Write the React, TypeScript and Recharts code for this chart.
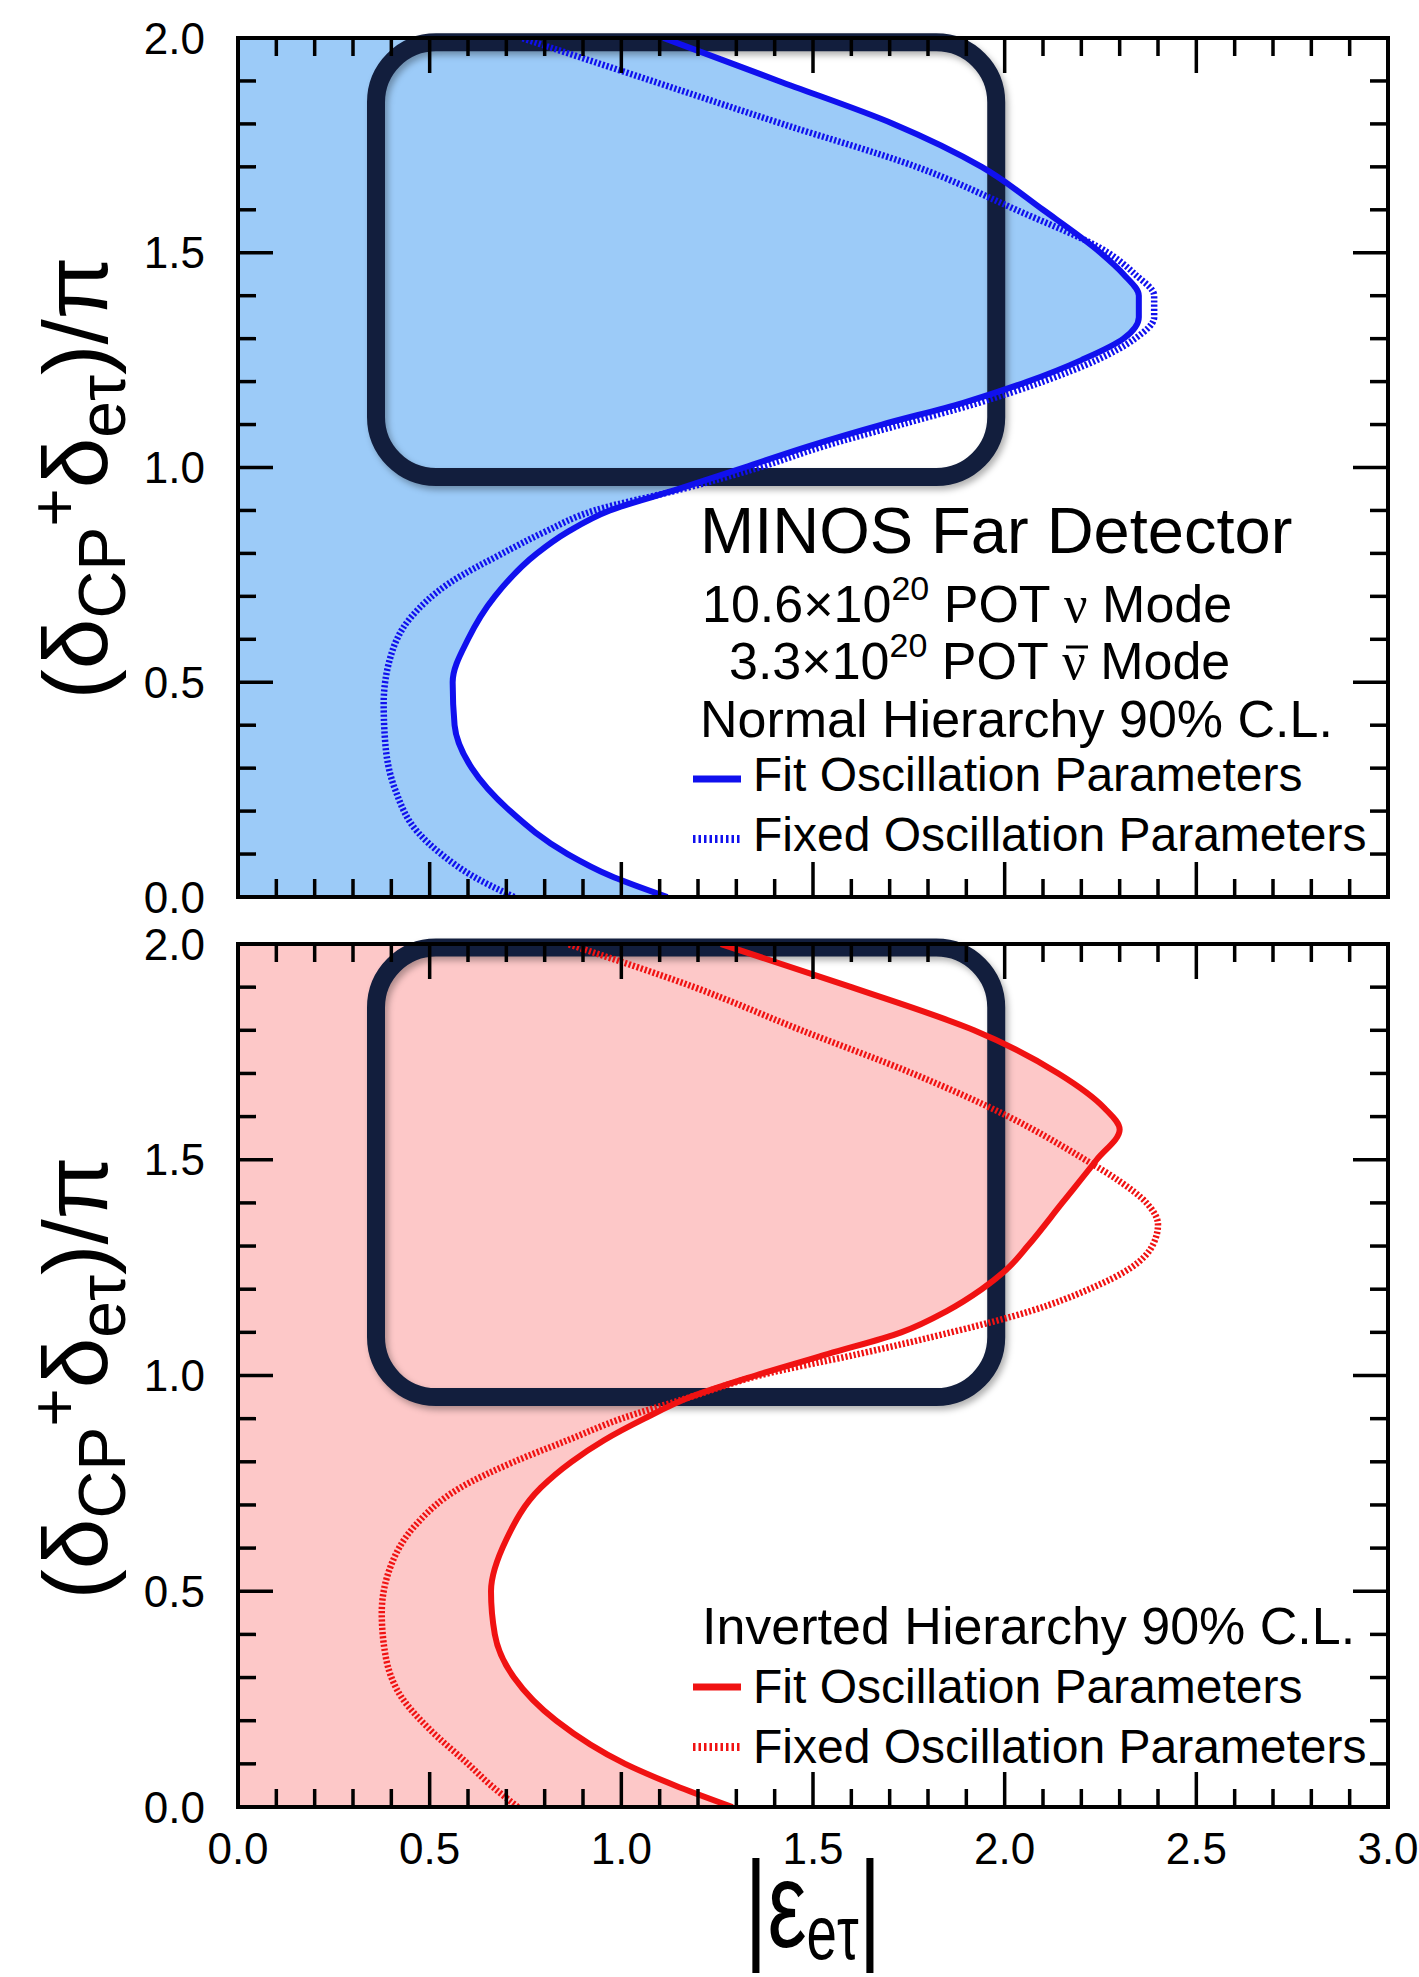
import React from 'react';
import {
  ComposedChart,
  Area,
  Line,
  XAxis,
  YAxis,
  ReferenceArea,
  Rectangle,
  Customized,
} from 'recharts';

const FONT = '"Liberation Sans", Arial, Helvetica, sans-serif';
const SERIF = '"Liberation Serif", "Times New Roman", serif';

// 90% C.L. contours: phase (δCP+δeτ)/π against |εeτ|, listed by increasing phase.

// Normal hierarchy, fitted oscillation parameters
const nhFitPhase = [0.0, 0.05, 0.1, 0.2, 0.3, 0.4, 0.5, 0.6, 0.7, 0.8, 0.85, 0.9, 0.95, 1.0, 1.05, 1.1, 1.15, 1.2, 1.25, 1.3, 1.35, 1.4, 1.45, 1.5, 1.6, 1.7, 1.8, 1.9, 2.0];
const nhFitEps = [1.12, 0.97, 0.86, 0.71, 0.61, 0.565, 0.56, 0.6, 0.67, 0.78, 0.86, 0.97, 1.15, 1.32, 1.49, 1.68, 1.89, 2.06, 2.2, 2.31, 2.35, 2.35, 2.31, 2.25, 2.1, 1.94, 1.71, 1.41, 1.11];

// Normal hierarchy, fixed oscillation parameters
const nhFixedPhase = [0.0, 0.05, 0.1, 0.15, 0.25, 0.35, 0.45, 0.55, 0.65, 0.73, 0.8, 0.85, 0.9, 0.95, 1.0, 1.05, 1.1, 1.15, 1.2, 1.25, 1.3, 1.35, 1.4, 1.45, 1.5, 1.6, 1.7, 1.8, 1.9, 2.0];
const nhFixedEps = [0.72, 0.61, 0.53, 0.47, 0.41, 0.385, 0.38, 0.395, 0.45, 0.55, 0.69, 0.8, 0.93, 1.16, 1.36, 1.53, 1.73, 1.93, 2.1, 2.24, 2.34, 2.39, 2.39, 2.34, 2.27, 2.03, 1.77, 1.42, 1.08, 0.74];

// Inverted hierarchy, fitted oscillation parameters
const ihFitPhase = [0.0, 0.05, 0.1, 0.2, 0.3, 0.4, 0.5, 0.62, 0.74, 0.8, 0.85, 0.9, 0.95, 1.0, 1.05, 1.1, 1.15, 1.2, 1.25, 1.3, 1.4, 1.5, 1.57, 1.62, 1.7, 1.8, 1.9, 2.0];
const ihFitEps = [1.29, 1.14, 1.01, 0.83, 0.72, 0.67, 0.66, 0.7, 0.79, 0.87, 0.955, 1.06, 1.18, 1.35, 1.54, 1.73, 1.85, 1.94, 2.01, 2.06, 2.15, 2.24, 2.3, 2.26, 2.14, 1.92, 1.6, 1.26];

// Inverted hierarchy, fixed oscillation parameters
const ihFixedPhase = [0.0, 0.05, 0.1, 0.18, 0.25, 0.35, 0.45, 0.55, 0.65, 0.74, 0.8, 0.85, 0.9, 0.95, 1.0, 1.05, 1.1, 1.15, 1.2, 1.25, 1.3, 1.35, 1.4, 1.45, 1.5, 1.6, 1.7, 1.8, 1.9, 2.0];
const ihFixedEps = [0.73, 0.66, 0.6, 0.5, 0.43, 0.385, 0.375, 0.395, 0.46, 0.58, 0.72, 0.86, 1.0, 1.18, 1.36, 1.62, 1.86, 2.07, 2.22, 2.33, 2.385, 2.4, 2.37, 2.3, 2.21, 2.01, 1.76, 1.47, 1.19, 0.86];

// Axis ticks
const X_TICKS = [0, 0.5, 1, 1.5, 2, 2.5, 3];
const X_MINOR_TICKS = [0.1, 0.2, 0.3, 0.4, 0.6, 0.7, 0.8, 0.9, 1.1, 1.2, 1.3, 1.4, 1.6, 1.7, 1.8, 1.9, 2.1, 2.2, 2.3, 2.4, 2.6, 2.7, 2.8, 2.9];
const Y_TICKS = [0, 0.5, 1, 1.5, 2];
const Y_MINOR_TICKS = [0.1, 0.2, 0.3, 0.4, 0.6, 0.7, 0.8, 0.9, 1.1, 1.2, 1.3, 1.4, 1.6, 1.7, 1.8, 1.9];

// Highlighted regions (|εeτ| range, phase range)
const NH_BOX_EPS = [0.36, 1.978];
const NH_BOX_PHASE = [0.978, 1.99];
const IH_BOX_EPS = [0.36, 1.978];
const IH_BOX_PHASE = [0.95, 1.992];

const BLUE = '#1010EE';
const BLUE_FILL = '#9ccbf8';
const RED = '#F01212';
const RED_FILL = '#fdc8c8';
const NAVY = '#121e3d';

type Row = { phase: number; eps: number };
const toRows = (phase: number[], eps: number[]): Row[] =>
  phase.map((p, i) => ({ phase: p, eps: eps[i] }));

const fmt = (v: number) => v.toFixed(1);

const tickLineStyle = { stroke: '#000', strokeWidth: 3.5 };
const frameStyle = { stroke: '#000', strokeWidth: 4, strokeLinecap: 'square' as const };
const noLabel = () => <g />;

// Inward-pointing major/minor ticks on all four sides, plus the frame.
function frameAxes() {
  const common = {
    type: 'number' as const,
    allowDataOverflow: true,
    interval: 0 as const,
    tick: noLabel,
    tickLine: tickLineStyle,
    tickMargin: 0,
    mirror: true,
  };
  const yCommon = { ...common, dataKey: 'phase', domain: [0, 2], reversed: true };
  return [
    <XAxis key="bmaj" xAxisId="bMajor" orientation="bottom" height={1} domain={[0, 3]} ticks={X_TICKS} tickSize={35} {...common} axisLine={frameStyle} />,
    <XAxis key="bmin" xAxisId="bMinor" orientation="bottom" height={1} domain={[0, 3]} ticks={X_MINOR_TICKS} tickSize={17} {...common} axisLine={false} />,
    <XAxis key="tmaj" xAxisId="tMajor" orientation="top" height={1} domain={[0, 3]} ticks={X_TICKS} tickSize={35} {...common} axisLine={frameStyle} />,
    <XAxis key="tmin" xAxisId="tMinor" orientation="top" height={1} domain={[0, 3]} ticks={X_MINOR_TICKS} tickSize={17} {...common} axisLine={false} />,
    <YAxis key="lmaj" yAxisId="lMajor" orientation="left" width={1} ticks={Y_TICKS} tickSize={35} {...yCommon} axisLine={frameStyle} />,
    <YAxis key="lmin" yAxisId="lMinor" orientation="left" width={1} ticks={Y_MINOR_TICKS} tickSize={17} {...yCommon} axisLine={false} />,
    <YAxis key="rmaj" yAxisId="rMajor" orientation="right" width={1} ticks={Y_TICKS} tickSize={35} {...yCommon} axisLine={frameStyle} />,
    <YAxis key="rmin" yAxisId="rMinor" orientation="right" width={1} ticks={Y_MINOR_TICKS} tickSize={17} {...yCommon} axisLine={false} />,
  ];
}

function YTitle({ cx, cy }: { cx: number; cy: number }) {
  return (
    <text
      transform={`translate(${cx},${cy}) rotate(-90)`}
      textAnchor="middle"
      fontFamily={FONT}
      fontSize={91}
      fill="#000"
    >
      (δ
      <tspan fontSize={66} dy={18}>CP</tspan>
      <tspan fontSize={66} dy={-48}>+</tspan>
      <tspan dy={30}>δ</tspan>
      <tspan fontSize={66} dy={18}>eτ</tspan>
      <tspan dy={-18}>)/π</tspan>
    </text>
  );
}

function Swatch({ x, y, color, dotted }: { x: number; y: number; color: string; dotted?: boolean }) {
  return dotted ? (
    <line x1={x} x2={x + 48} y1={y} y2={y} stroke={color} strokeWidth={8} strokeDasharray="2.5 3" />
  ) : (
    <line x1={x} x2={x + 48} y1={y} y2={y} stroke={color} strokeWidth={7} />
  );
}

function NormalNotes() {
  return (
    <g fontFamily={FONT} fill="#000">
      <YTitle cx={107} cy={478} />
      <text x={700} y={553} fontSize={65}>MINOS Far Detector</text>
      <text x={702} y={622} fontSize={52}>
        10.6×10<tspan fontSize={34} dy={-22}>20</tspan>
        <tspan dy={22}> POT </tspan>
        <tspan fontFamily={SERIF}>ν</tspan> Mode
      </text>
      <text x={729} y={679} fontSize={52}>
        3.3×10<tspan fontSize={34} dy={-22}>20</tspan>
        <tspan dy={22}> POT </tspan>
        <tspan fontFamily={SERIF}>ν</tspan> Mode
      </text>
      {/* bar over the antineutrino symbol */}
      <line x1={1066} x2={1088} y1={647} y2={647} stroke="#000" strokeWidth={3} />
      <text x={700} y={737} fontSize={52}>Normal Hierarchy 90% C.L.</text>
      <Swatch x={693} y={779} color={BLUE} />
      <text x={753} y={791} fontSize={48}>Fit Oscillation Parameters</text>
      <Swatch x={693} y={839} color={BLUE} dotted />
      <text x={753} y={851} fontSize={48}>Fixed Oscillation Parameters</text>
    </g>
  );
}

function InvertedNotes() {
  return (
    <g fontFamily={FONT} fill="#000">
      <YTitle cx={107} cy={468} />
      <text x={702} y={734} fontSize={52}>Inverted Hierarchy 90% C.L.</text>
      <Swatch x={693} y={777} color={RED} />
      <text x={753} y={793} fontSize={48}>Fit Oscillation Parameters</text>
      <Swatch x={693} y={837} color={RED} dotted />
      <text x={753} y={853} fontSize={48}>Fixed Oscillation Parameters</text>
      <text transform="translate(813,1037) scale(0.72,1)" textAnchor="middle" fontSize={122}>
        |ε<tspan fontSize={76} dy={12}>eτ</tspan>
        <tspan dy={-12}>|</tspan>
      </text>
    </g>
  );
}

type PanelProps = {
  top: number;
  height: number;
  marginTop: number;
  marginBottom: number;
  showX: boolean;
  fit: Row[];
  fixed: Row[];
  lineColor: string;
  fillColor: string;
  boxEps: number[];
  boxPhase: number[];
  notes: React.ReactElement;
};

function Panel(p: PanelProps) {
  return (
    <div style={{ position: 'absolute', left: 0, top: p.top }}>
      <ComposedChart
        layout="vertical"
        width={1419}
        height={p.height}
        data={p.fit}
        margin={{ top: p.marginTop, right: 31, bottom: p.marginBottom, left: 138 }}
      >
        <XAxis
          xAxisId="main"
          type="number"
          domain={[0, 3]}
          allowDataOverflow
          ticks={X_TICKS}
          interval={0}
          hide={!p.showX}
          height={p.showX ? 170 : 0}
          tickLine={false}
          axisLine={false}
          tickSize={0}
          tickMargin={26}
          tickFormatter={fmt}
          tick={{ fontSize: 44, fill: '#000', fontFamily: FONT }}
        />
        <YAxis
          yAxisId="main"
          type="number"
          dataKey="phase"
          domain={[0, 2]}
          reversed
          allowDataOverflow
          ticks={Y_TICKS}
          interval={0}
          width={100}
          tickLine={false}
          axisLine={false}
          tickSize={0}
          tickMargin={33}
          tickFormatter={fmt}
          tick={{ fontSize: 44, fill: '#000', fontFamily: FONT }}
        />
        <Area
          xAxisId="main"
          yAxisId="main"
          data={p.fit}
          dataKey="eps"
          type="monotone"
          fill={p.fillColor}
          fillOpacity={1}
          stroke="none"
          isAnimationActive={false}
        />
        <Line
          xAxisId="main"
          yAxisId="main"
          data={p.fixed}
          dataKey="eps"
          type="monotone"
          stroke={p.lineColor}
          strokeWidth={6.5}
          strokeDasharray="2.2 2"
          dot={false}
          activeDot={false}
          isAnimationActive={false}
        />
        <Line
          xAxisId="main"
          yAxisId="main"
          data={p.fit}
          dataKey="eps"
          type="monotone"
          stroke={p.lineColor}
          strokeWidth={6}
          dot={false}
          activeDot={false}
          isAnimationActive={false}
        />
        {frameAxes()}
        <ReferenceArea
          xAxisId="main"
          yAxisId="main"
          x1={p.boxEps[0]}
          x2={p.boxEps[1]}
          y1={p.boxPhase[0]}
          y2={p.boxPhase[1]}
          ifOverflow="visible"
          shape={(s: any) => (
            <Rectangle
              {...s}
              radius={60}
              fill="none"
              fillOpacity={0}
              stroke={NAVY}
              strokeWidth={18}
              strokeOpacity={1}
              style={{ filter: 'drop-shadow(3px 4px 3px rgba(0,0,0,0.3))' }}
            />
          )}
        />
        <Customized component={p.notes} />
      </ComposedChart>
    </div>
  );
}

export default function App() {
  return (
    <div style={{ position: 'absolute', left: 0, top: 0, width: 1419, height: 1977, background: '#fff' }}>
      <Panel
        top={0}
        height={940}
        marginTop={38}
        marginBottom={43}
        showX={false}
        fit={toRows(nhFitPhase, nhFitEps)}
        fixed={toRows(nhFixedPhase, nhFixedEps)}
        lineColor={BLUE}
        fillColor={BLUE_FILL}
        boxEps={NH_BOX_EPS}
        boxPhase={NH_BOX_PHASE}
        notes={<NormalNotes />}
      />
      <Panel
        top={910}
        height={1067}
        marginTop={34}
        marginBottom={0}
        showX
        fit={toRows(ihFitPhase, ihFitEps)}
        fixed={toRows(ihFixedPhase, ihFixedEps)}
        lineColor={RED}
        fillColor={RED_FILL}
        boxEps={IH_BOX_EPS}
        boxPhase={IH_BOX_PHASE}
        notes={<InvertedNotes />}
      />
    </div>
  );
}
